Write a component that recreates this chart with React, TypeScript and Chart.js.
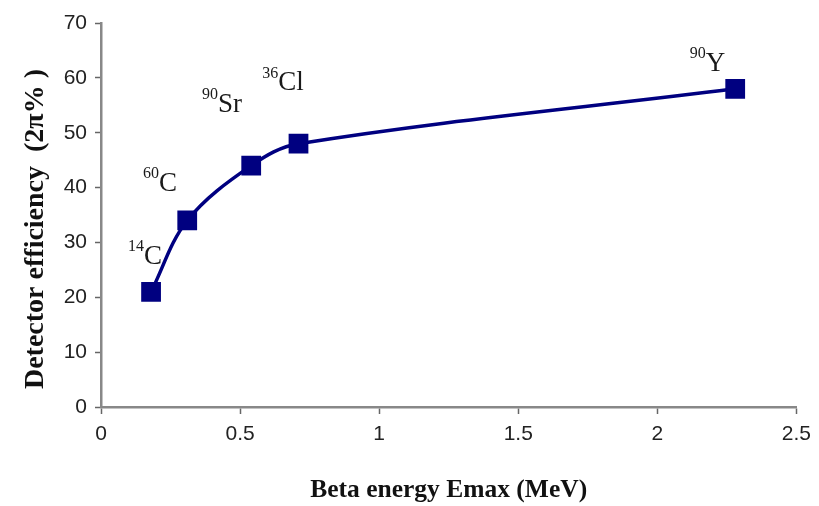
import React, { useEffect, useRef } from "react";
import { Chart, registerables } from "chart.js";

Chart.register(...registerables);

const energies = [0.18, 0.31, 0.54, 0.71, 2.28];
const efficiencies = [21, 34, 44, 48, 58];
const isotopeMass = ["14", "60", "90", "36", "90"];
const isotopeSymbol = ["C", "C", "Sr", "Cl", "Y"];
const labelX = [0.158, 0.212, 0.435, 0.654, 2.18];
const labelY = [27.3, 40.7, 55.0, 59.0, 62.5];
const xTicks = [0, 0.5, 1, 1.5, 2, 2.5];
const yTicks = [0, 10, 20, 30, 40, 50, 60, 70];

const labelPlugin = {
  id: "isotopeLabels",
  afterDatasetsDraw(chart: any) {
    const ctx = chart.ctx;
    const xs = chart.scales.x;
    const ys = chart.scales.y;
    ctx.save();
    ctx.fillStyle = "#1a1a1a";
    ctx.textBaseline = "middle";
    for (let i = 0; i < isotopeSymbol.length; i++) {
      const px = xs.getPixelForValue(labelX[i]);
      const py = ys.getPixelForValue(labelY[i]);
      const supFont = "16px 'Liberation Serif', 'Times New Roman', serif";
      const mainFont = "27px 'Liberation Serif', 'Times New Roman', serif";
      ctx.font = supFont;
      const sw = ctx.measureText(isotopeMass[i]).width;
      ctx.font = mainFont;
      const mw = ctx.measureText(isotopeSymbol[i]).width;
      const start = px - (sw + mw) / 2;
      ctx.textAlign = "left";
      ctx.font = supFont;
      ctx.fillText(isotopeMass[i], start, py - 10);
      ctx.font = mainFont;
      ctx.fillText(isotopeSymbol[i], start + sw, py);
    }
    ctx.restore();
  },
};

export default function App() {
  const ref = useRef<HTMLCanvasElement | null>(null);
  useEffect(() => {
    document.body.style.margin = "0";
    const canvas = ref.current!;
    const chart = new Chart(canvas, {
      type: "scatter",
      data: {
        datasets: [
          {
            data: energies.map((e, i) => ({ x: e, y: efficiencies[i] })),
            showLine: true,
            borderColor: "#000080",
            backgroundColor: "#000080",
            borderWidth: 3.5,
            tension: 0.35,
            pointStyle: "rect",
            pointRadius: 11.5,
            pointHoverRadius: 11.5,
          },
        ],
      },
      options: {
        responsive: false,
        animation: false,
        events: [],
        layout: { padding: { top: 23, right: 22, left: 0, bottom: 0 } },
        plugins: { legend: { display: false }, tooltip: { enabled: false } },
        scales: {
          x: {
            type: "linear",
            min: 0,
            max: 2.5,
            afterBuildTicks: (s: any) => {
              s.ticks = xTicks.map((v) => ({ value: v }));
            },
            afterFit: (s: any) => {
              s.height = 99;
            },
            grid: {
              drawOnChartArea: false,
              drawTicks: true,
              tickLength: 7,
              color: "#666",
              tickWidth: 1.5,
            },
            border: { color: "#888", width: 2.5 },
            ticks: {
              padding: 8,
              color: "#222",
              font: { family: "'Liberation Sans', Arial, sans-serif", size: 21 },
              callback: (v: any) => String(v),
            },
            title: {
              display: true,
              text: "Beta energy Emax (MeV)",
              color: "#111",
              font: { family: "'Liberation Serif', 'Times New Roman', serif", size: 25.5, weight: "bold" },
              padding: { top: 0, bottom: 0 },
            },
          },
          y: {
            type: "linear",
            min: 0,
            max: 70,
            afterBuildTicks: (s: any) => {
              s.ticks = yTicks.map((v) => ({ value: v }));
            },
            afterFit: (s: any) => {
              s.width = 101;
            },
            grid: {
              drawOnChartArea: false,
              drawTicks: true,
              tickLength: 6,
              color: "#666",
              tickWidth: 1.5,
            },
            border: { color: "#888", width: 2.5 },
            ticks: {
              padding: 8,
              color: "#222",
              font: { family: "'Liberation Sans', Arial, sans-serif", size: 21 },
            },
            title: {
              display: true,
              text: "Detector efficiency  (2π% )    ",
              color: "#111",
              font: { family: "'Liberation Serif', 'Times New Roman', serif", size: 28, weight: "bold" },
              padding: { top: 19, bottom: 19 },
            },
          },
        },
      },
      plugins: [labelPlugin],
    } as any);
    return () => chart.destroy();
  }, []);
  return <canvas ref={ref} width={819} height={506} style={{ display: "block" }} />;
}
